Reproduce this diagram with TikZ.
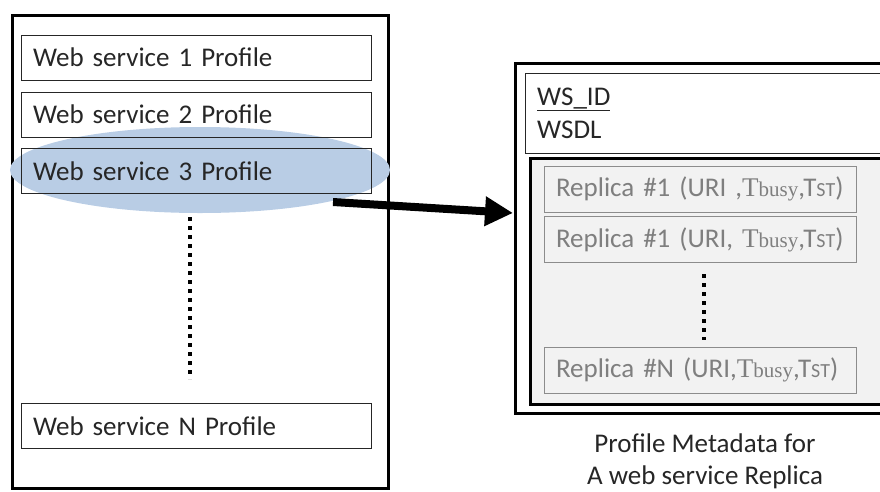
\documentclass[tikz,border=0pt]{standalone}
\usepackage{fontspec}
\setmainfont{Carlito}
\newfontfamily\serifT{Liberation Serif}
\usetikzlibrary{arrows.meta,shapes.geometric}
\definecolor{hilite}{HTML}{B9CDE5}
\definecolor{panel}{HTML}{F2F2F2}
\definecolor{replicaline}{HTML}{8C8C8C}
\definecolor{replicatext}{HTML}{7F7F7F}
\newcommand{\tbusy}{{\serifT T{\fontsize{21}{21}\selectfont busy}}}
\newcommand{\tst}{T{\fontsize{20}{20}\selectfont ST}}
\begin{document}
\begin{tikzpicture}[x=1pt,y=-1pt,
  frame/.style={draw=black, line width=3pt, minimum width=#1},
  profile/.style={draw=black!85, line width=0.9pt, minimum width=350pt,
    minimum height=45pt, text width=326pt, inner xsep=12pt, align=left,
    font=\fontsize{27}{30}\selectfont, text=black!85},
  replica/.style={draw=replicaline, fill=panel, line width=0.9pt,
    minimum width=312pt, minimum height=46pt, text width=288pt,
    inner xsep=12pt, align=left, font=\fontsize{27}{30}\selectfont,
    text=replicatext},
  dotline/.style={line width=4pt, dash pattern=on 4pt off 5pt},
  caption/.style={font=\fontsize{27}{32}\selectfont, align=center, text=black!85}]
\useasboundingbox (0,0) rectangle (880,491);

% left column: list of profiles
\node[frame=376pt, minimum height=473pt] (store) at (200,251.5) {};
\node[ellipse, fill=hilite, minimum width=380pt, minimum height=86pt, inner sep=0pt] (sel) at (200,170) {};
\node[profile] (p1) at (196,57.5) {Web service 1 Profile};
\node[profile] (p2) at (196,114.5) {Web service 2 Profile};
\node[profile] (p3) at (196,171) {Web service 3 Profile};
\node[profile] (pn) at (196,426) {Web service N Profile};
\coordinate (d1) at (190,217);
\coordinate (d2) at (190,379);
\draw[dotline] (d1) -- (d2);

% right column: metadata of one profile
\node[frame=375pt, minimum height=350pt] (meta) at (702.5,238) {};
\node[draw=black!85, line width=0.9pt, minimum width=360pt, minimum height=80pt,
  anchor=north west] (head) at (525,73) {};
\node[anchor=base west, align=left, font=\fontsize{27}{33}\selectfont, text=black!85,
  inner sep=0pt] (headtext) at (537,138) {\underline{WS\_ID}\\WSDL};
\node[draw=black, fill=panel, line width=2.5pt, minimum width=360pt, minimum height=246pt,
  anchor=north west] (replicas) at (529,157) {};
\node[replica] (r1) at (700,189) {Replica \#1 (URI ,\tbusy,\tst)};
\node[replica] (r2) at (700,239.5) {Replica \#1 (URI, \tbusy,\tst)};
\node[replica] (rn) at (700,370) {Replica \#N (URI,\tbusy,\tst)};
\coordinate (e1) at (704,274);
\coordinate (e2) at (704,340);
\draw[dotline] (e1) -- (e2);

\node[caption, anchor=base] (cap) at (705,484) {Profile Metadata for\\A web service Replica};

% selection arrow
\coordinate (from) at (333,202);
\coordinate (to) at (513,213);
\draw[line width=8pt, -{Triangle[length=28pt,width=28pt]}] (from) -- (to);
\end{tikzpicture}
\end{document}
